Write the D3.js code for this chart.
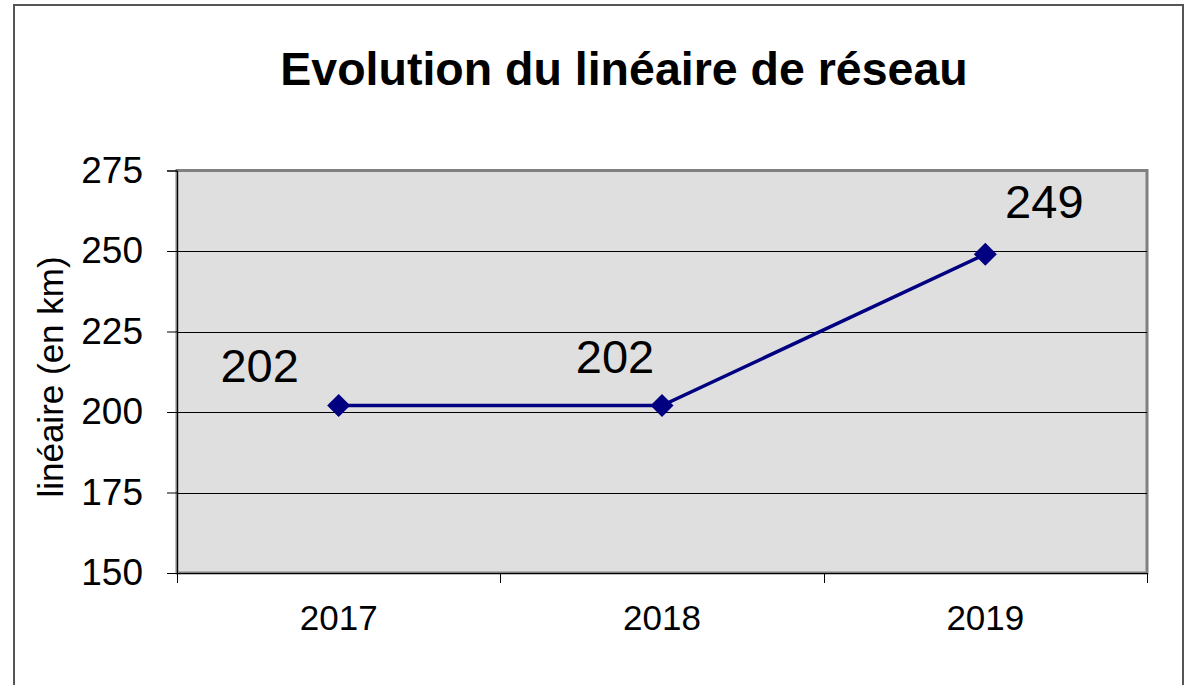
<!DOCTYPE html>
<html>
<head>
<meta charset="utf-8">
<script src="https://cdn.jsdelivr.net/npm/d3@7"></script>
<style>
  body { margin: 0; background: #fff; }
  text { font-family: "Liberation Sans", Arial, sans-serif; fill: #000; }
</style>
</head>
<body>
<script>
// data
var years = ["2017", "2018", "2019"];
var lineaire = [202, 202, 249];
var yTicks = [150, 175, 200, 225, 250, 275];

// label offsets from each point (Excel put them oddly)
var labelDx = [-79, -47, 59];
var labelDy = [-24, -33, -36];

var svgWidth = 1185;
var svgHeight = 685;

var plot = { left: 177, right: 1147, top: 170.5, bottom: 573 };

var svg = d3.select("body")
  .append("svg")
  .attr("width", svgWidth)
  .attr("height", svgHeight);

// outer chart frame
svg.append("rect")
  .attr("x", 14)
  .attr("y", 5)
  .attr("width", 1169)
  .attr("height", 700)
  .attr("fill", "#fff")
  .attr("stroke", "#555")
  .attr("stroke-width", 2);

// title
svg.append("text")
  .attr("x", 624)
  .attr("y", 85)
  .attr("text-anchor", "middle")
  .style("font-size", "46.5px")
  .style("font-weight", "bold")
  .text("Evolution du linéaire de réseau");

var x = d3.scaleBand()
  .domain(years)
  .range([plot.left, plot.right]);

var y = d3.scaleLinear()
  .domain([150, 275])
  .range([plot.bottom, plot.top]);

// plot area
svg.append("rect")
  .attr("x", plot.left)
  .attr("y", plot.top)
  .attr("width", plot.right - plot.left)
  .attr("height", plot.bottom - plot.top)
  .attr("fill", "#dfdfdf")
  .attr("stroke", "#808080")
  .attr("stroke-width", 3);

// gridlines
svg.append("g")
  .selectAll("line")
  .data(yTicks.filter(d => d > 150 && d < 275))
  .enter().append("line")
  .attr("x1", plot.left)
  .attr("x2", plot.right)
  .attr("y1", d => Math.round(y(d)) + 0.5)
  .attr("y2", d => Math.round(y(d)) + 0.5)
  .attr("stroke", "#000")
  .attr("stroke-width", 1);

// y axis
var leftAxis = d3.axisLeft(y)
  .tickValues(yTicks)
  .tickSize(10)
  .tickPadding(24);

var yAxis = svg.append("g")
  .attr("transform", `translate(${plot.left}, 0)`)
  .call(leftAxis);
yAxis.select(".domain").attr("stroke", "#000");
yAxis.selectAll(".tick line").attr("stroke", "#000");
yAxis.selectAll(".tick text")
  .attr("fill", "#000")
  .style("font-size", "37px")
  .style("font-family", "'Liberation Sans', Arial, sans-serif");

// x axis: ticks between categories, labels centered
var bottomAxis = d3.axisBottom(x).tickSize(0).tickPadding(32);
var xAxis = svg.append("g")
  .attr("transform", `translate(0, ${plot.bottom})`)
  .call(bottomAxis);
xAxis.select(".domain").attr("stroke", "#000");
xAxis.selectAll(".tick text")
  .attr("fill", "#000")
  .attr("dy", "0.71em")
  .style("font-size", "35px")
  .style("font-family", "'Liberation Sans', Arial, sans-serif");

var edges = years.map(d => x(d)).concat([x.range()[1]]);
svg.append("g")
  .selectAll("line")
  .data(edges)
  .enter().append("line")
  .attr("x1", d => Math.round(d) + 0.5)
  .attr("x2", d => Math.round(d) + 0.5)
  .attr("y1", plot.bottom)
  .attr("y2", plot.bottom + 10)
  .attr("stroke", "#000");

// y axis title
svg.append("text")
  .attr("transform", "translate(63, 377) rotate(-90)")
  .attr("text-anchor", "middle")
  .style("font-size", "35px")
  .text("linéaire (en km)");

// line
var points = years.map((d, i) => ({ year: d, value: lineaire[i], i: i }));

var drawLine = d3.line()
  .x(d => x(d.year) + x.bandwidth() / 2)
  .y(d => y(d.value));

svg.append("path")
  .attr("d", drawLine(points))
  .attr("fill", "none")
  .attr("stroke", "#000080")
  .attr("stroke-width", 3.5);

// diamond markers
svg.append("g")
  .selectAll("path")
  .data(points)
  .enter().append("path")
  .attr("d", d3.symbol(d3.symbolSquare, 265))
  .attr("transform", d => `translate(${x(d.year) + x.bandwidth() / 2}, ${y(d.value)}) rotate(45)`)
  .attr("fill", "#000080");

// data labels
svg.append("g")
  .selectAll("text")
  .data(points)
  .enter().append("text")
  .attr("x", d => x(d.year) + x.bandwidth() / 2 + labelDx[d.i])
  .attr("y", d => y(d.value) + labelDy[d.i])
  .attr("text-anchor", "middle")
  .style("font-size", "47px")
  .text(d => d.value);
</script>
</body>
</html>
